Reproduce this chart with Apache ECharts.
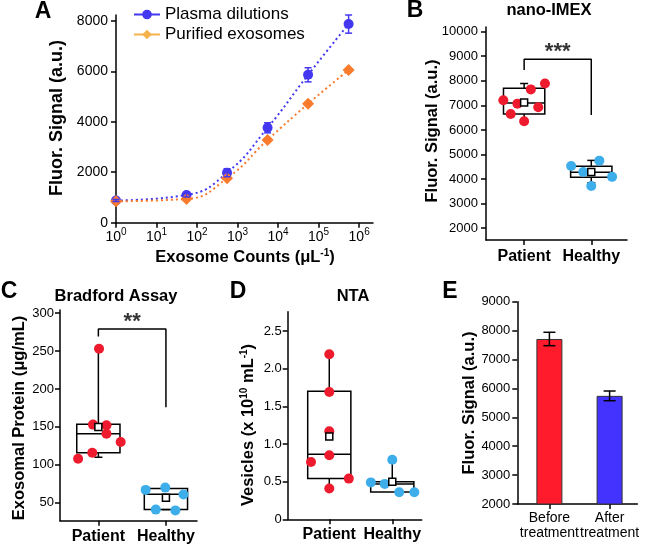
<!DOCTYPE html>
<html><head><meta charset="utf-8">
<script src="https://cdn.jsdelivr.net/npm/echarts@6/dist/echarts.min.js"></script>
<style>html,body{margin:0;padding:0;background:#fff}#c{width:645px;height:546px}</style>
</head><body><div id="c"></div>
<script>
// ---------- Panel A data ----------
const aCounts = [1, 55, 550, 5500, 55000, 550000];
const aPlasma = [880, 1100, 1980, 3760, 5860, 7870];
const aPlasmaErr = [40, 80, 160, 200, 280, 360];
const aPurified = [850, 940, 1760, 3280, 4710, 6050];
const aTicksX = [1, 10, 100, 1000, 10000, 100000, 1000000];
const aTicksY = [0, 2000, 4000, 6000, 8000];

// ---------- Panel B data (nano-IMEX) ----------
const cats = ['Patient', 'Healthy'];
const catPos = [1, 2];
const bPatientX = [0.69, 0.80, 0.90, 1.00, 1.10, 1.21, 1.31];
const bPatientY = [7210, 6650, 7070, 6350, 7650, 6920, 7890];
const bHealthyX = [1.70, 1.88, 2.00, 2.12, 2.31];
const bHealthyY = [4530, 4290, 3720, 4750, 4090];
const bLow = [6360, 3850];
const bQ1 = [6650, 4070];
const bMed = [7100, 4280];
const bQ3 = [7700, 4520];
const bHigh = [7890, 4760];
const bMean = [7120, 4290];
const bBracketX = [1, 1, 2, 2];
const bBracketY = [8440, 8880, 8880, 6610];
const bTicksY = [2000, 3000, 4000, 5000, 6000, 7000, 8000, 9000, 10000];

// ---------- Panel C data (Bradford) ----------
const cPatientX = [0.70, 0.91, 0.92, 1.01, 1.12, 1.12, 1.33];
const cPatientY = [108, 116, 153, 253, 152, 141, 130];
const cHealthyX = [1.70, 1.85, 1.99, 2.14, 2.26];
const cHealthyY = [67, 41, 70, 40, 61];
const cLow = [110, 41];
const cQ1 = [116, 41.3];
const cMed = [141, 61.3];
const cQ3 = [153.5, 68.7];
const cHigh = [253.5, 71];
const cMean = [150, 56.5];
const cBracketX = [1, 1, 2, 2];
const cBracketY = [269, 279, 279, 176];
const cTicksY = [50, 100, 150, 200, 250, 300];

// ---------- Panel D data (NTA) ----------
const dPatientX = [0.71, 1.0, 1.0, 1.0, 1.0, 1.0, 1.31];
const dPatientY = [0.76, 2.19, 1.69, 1.17, 0.85, 0.41, 0.54];
const dHealthyX = [1.66, 1.88, 2.0, 2.11, 2.35];
const dHealthyY = [0.49, 0.47, 0.79, 0.36, 0.36];
const dLow = [0.425, 0.363];
const dQ1 = [0.54, 0.363];
const dMed = [0.863, 0.47];
const dQ3 = [1.70, 0.50];
const dHigh = [2.18, 0.79];
const dMean = [1.10, 0.50];
const dTicksY = [0, 0.5, 1.0, 1.5, 2.0, 2.5];

// ---------- Panel E data ----------
const eLabels = ['Before\ntreatment', 'After\ntreatment'];
const ePos = [1, 2];
const eValues = [7710, 5742];
const eErr = [232, 168];
const eTicksY = [2000, 3000, 4000, 5000, 6000, 7000, 8000, 9000];

// ---------- styling ----------
const FONT = '"Liberation Sans", Arial, sans-serif';
const BLUE = '#4337F0';
const ORANGE = '#FA7B2C';
const RED = '#EE1B2E';
const LBLUE = '#3DAEEA';
const E_COLORS = ['#FF1A2C', '#4433FF'];

function vAxis(grid, min, max, ticks, fmt, margin, fs) {
  return {
    type: 'value', gridIndex: grid, min: min, max: max,
    axisLine: {show: true, onZero: false, lineStyle: {color: '#000', width: 1.5}},
    axisTick: {show: true, length: 5, customValues: ticks, lineStyle: {color: '#000', width: 1.5}},
    axisLabel: {customValues: ticks, formatter: fmt, margin: margin, color: '#000', fontSize: fs || 13, fontFamily: FONT,
      hideOverlap: false, showMinLabel: true, showMaxLabel: true},
    splitLine: {show: false}
  };
}
function catAxis(grid, min, max, names, margin, bold, fs, lh) {
  const ax = vAxis(grid, min, max, catPos, function (v) { return names[Math.round(v) - 1]; }, margin, fs);
  ax.axisLabel.fontWeight = bold ? 'bold' : 'normal';
  if (lh) ax.axisLabel.lineHeight = lh;
  return ax;
}

function boxRender(boxW) {
  return function (params, api) {
    const x = api.value(0), lo = api.value(1), q1 = api.value(2), med = api.value(3), q3 = api.value(4), hi = api.value(5);
    const w = api.size([boxW, 0])[0];
    const p1 = api.coord([x, q1]), p3 = api.coord([x, q3]), pm = api.coord([x, med]);
    const pl = api.coord([x, lo]), ph = api.coord([x, hi]);
    const cx = p1[0], cap = 4;
    const st = {stroke: '#000', lineWidth: 1.5, fill: null};
    const ch = [];
    if (hi > q3) {
      ch.push({type: 'line', shape: {x1: cx, y1: ph[1], x2: cx, y2: p3[1]}, style: st});
      ch.push({type: 'line', shape: {x1: cx - cap, y1: ph[1], x2: cx + cap, y2: ph[1]}, style: st});
    }
    if (lo < q1) {
      ch.push({type: 'line', shape: {x1: cx, y1: pl[1], x2: cx, y2: p1[1]}, style: st});
      ch.push({type: 'line', shape: {x1: cx - cap, y1: pl[1], x2: cx + cap, y2: pl[1]}, style: st});
    }
    ch.push({type: 'rect', shape: {x: cx - w / 2, y: p3[1], width: w, height: p1[1] - p3[1]}, style: {stroke: '#000', lineWidth: 1.5, fill: 'rgba(0,0,0,0)'}});
    ch.push({type: 'line', shape: {x1: cx - w / 2, y1: pm[1], x2: cx + w / 2, y2: pm[1]}, style: st});
    return {type: 'group', children: ch};
  };
}
function errRender(capHalf, color) {
  return function (params, api) {
    const x = api.value(0), y = api.value(1), e = api.value(2);
    const t = api.coord([x, y + e]), b = api.coord([x, y - e]);
    const st = {stroke: color, lineWidth: 1.5};
    return {type: 'group', children: [
      {type: 'line', shape: {x1: t[0], y1: t[1], x2: b[0], y2: b[1]}, style: st},
      {type: 'line', shape: {x1: t[0] - capHalf, y1: t[1], x2: t[0] + capHalf, y2: t[1]}, style: st},
      {type: 'line', shape: {x1: b[0] - capHalf, y1: b[1], x2: b[0] + capHalf, y2: b[1]}, style: st}
    ]};
  };
}
const zip = (xs, ys) => xs.map((x, i) => [x, ys[i]]);
function boxPanelSeries(idx, boxW, px, py, hx, hy, lo, q1, me, q3, hi, mean, brX, brY, stars) {
  const s = [];
  s.push({type: 'custom', xAxisIndex: idx, yAxisIndex: idx, renderItem: boxRender(boxW), encode: {x: 0, y: [1, 2, 3, 4, 5]},
    data: catPos.map((p, i) => [p, lo[i], q1[i], me[i], q3[i], hi[i]]), z: 2, silent: true});
  s.push({type: 'scatter', xAxisIndex: idx, yAxisIndex: idx, symbolSize: 10, itemStyle: {color: RED, opacity: 1}, data: zip(px, py), z: 3, clip: false});
  s.push({type: 'scatter', xAxisIndex: idx, yAxisIndex: idx, symbolSize: 10, itemStyle: {color: LBLUE, opacity: 1}, data: zip(hx, hy), z: 3, clip: false});
  s.push({type: 'scatter', xAxisIndex: idx, yAxisIndex: idx, symbol: 'rect', symbolSize: 7, itemStyle: {color: '#fff', borderColor: '#000', borderWidth: 1.5, opacity: 1}, data: zip(catPos, mean), z: 4});
  if (brX) {
    s.push({type: 'line', xAxisIndex: idx, yAxisIndex: idx, symbol: 'none', lineStyle: {color: '#000', width: 1.5}, data: zip(brX, brY), z: 2, silent: true});
    s.push({type: 'scatter', xAxisIndex: idx, yAxisIndex: idx, symbolSize: 0, data: [[(brX[0] + brX[3]) / 2, brY[1]]],
      label: {show: true, position: 'top', distance: 0, offset: [0, 4], formatter: stars, fontSize: 22, fontWeight: 'bold', color: '#000', fontFamily: FONT}});
  }
  return s;
}

const chart = echarts.init(document.getElementById('c'), null, {renderer: 'canvas'});
const bold = (t, x, y, fs, rot, rich) => ({type: 'text', x: x, y: y, rotation: rot || 0,
  style: {text: t, font: 'bold ' + fs + 'px ' + FONT, fill: '#000', align: 'center', verticalAlign: 'middle', rich: rich}});
const supRich = {s: {fontSize: 10, fontWeight: 'bold', fontFamily: FONT, fill: '#000', verticalAlign: 'top', padding: [0, 0, 6, 0]}};

const option = {
  animation: false,
  backgroundColor: '#fff',
  textStyle: {fontFamily: FONT},
  grid: [
    {left: 116, top: 15, width: 257, height: 207.7},
    {left: 486, top: 27, width: 141, height: 213},
    {left: 60, top: 310, width: 137, height: 210.7},
    {left: 287.7, top: 311.7, width: 134, height: 207.6},
    {left: 517.3, top: 301.7, width: 120, height: 202.3}
  ],
  xAxis: [
    {type: 'log', logBase: 10, gridIndex: 0, min: 1, max: 2.2e6,
      axisLine: {show: true, onZero: false, lineStyle: {color: '#000', width: 1.5}},
      axisTick: {show: true, length: 5, customValues: aTicksX, lineStyle: {color: '#000', width: 1.5}},
      axisLabel: {customValues: aTicksX, margin: 5, color: '#000', hideOverlap: false,
        formatter: v => '{b|10}{s|' + Math.round(Math.log10(v)) + '}',
        rich: {b: {fontSize: 14, fontFamily: FONT, color: '#000'}, s: {fontSize: 10, fontFamily: FONT, color: '#000', verticalAlign: 'top', padding: [0, 0, 8, 0]}}},
      splitLine: {show: false}, minorTick: {show: false}},
    catAxis(1, 0.432, 2.532, cats, 9, true, 16),
    catAxis(2, 0.432, 2.46, cats, 8, true, 16),
    catAxis(3, 0.34, 2.467, cats, 7, true, 16),
    catAxis(4, 0.467, 2.46, eLabels, 7, false, 14, 15)
  ],
  yAxis: [
    vAxis(0, 0, 8230, aTicksY, v => String(v), 8, 14),
    vAxis(1, 1520, 10190, bTicksY, v => String(v), 8),
    vAxis(2, 26.4, 304, cTicksY, v => String(v), 6),
    vAxis(3, 0, 2.756, dTicksY, v => v === 0 ? '0' : v.toFixed(1), 6),
    vAxis(4, 2000, 9000, eTicksY, v => String(v), 7)
  ],
  legend: {
    orient: 'vertical', left: 128, top: 1, itemWidth: 26, itemHeight: 12, itemGap: 3,
    textStyle: {fontSize: 17, fontFamily: FONT, color: '#000'},
    lineStyle: {type: 'solid', width: 2},
    data: [
      {name: 'Plasma dilutions'},
      {name: 'Purified exosomes', itemStyle: {color: '#F6B24A'}, lineStyle: {color: '#F6B24A', type: 'solid', width: 2}}
    ]
  },
  graphic: [
    bold('A', 43, 12, 23), bold('B', 415, 11, 23), bold('C', 9, 292, 23), bold('D', 238, 292, 23), bold('E', 450, 292, 23),
    bold('nano-IMEX', 549, 10, 16.5), bold('Bradford Assay', 116, 296, 16.5), bold('NTA', 353, 296, 16.5),
    bold('Fluor. Signal (a.u.)', 57, 118, 18, Math.PI / 2),
    bold('Exosome Counts (μL{s|-1})', 245, 257, 16.5, 0, supRich),
    bold('Fluor. Signal (a.u.)', 432, 131, 16.5, Math.PI / 2),
    bold('Exosomal Protein (μg/mL)', 19, 418, 16.5, Math.PI / 2),
    bold('Vesicles (x 10{s|10} mL{s|-1})', 248, 425, 16.5, Math.PI / 2, supRich),
    bold('Fluor. Signal (a.u.)', 469, 403, 16.5, Math.PI / 2)
  ],
  series: [
    {name: 'Plasma dilutions', type: 'line', xAxisIndex: 0, yAxisIndex: 0, smooth: true, symbol: 'circle', symbolSize: 10,
      itemStyle: {color: BLUE}, lineStyle: {color: BLUE, width: 2, type: [2, 3]}, data: zip(aCounts, aPlasma), z: 3},
    {name: 'Purified exosomes', type: 'line', xAxisIndex: 0, yAxisIndex: 0, smooth: true, symbol: 'diamond', symbolSize: 12,
      itemStyle: {color: ORANGE}, lineStyle: {color: ORANGE, width: 2, type: [2, 3]}, data: zip(aCounts, aPurified), z: 3},
    {type: 'custom', xAxisIndex: 0, yAxisIndex: 0, renderItem: errRender(3.5, BLUE), encode: {x: 0, y: 1},
      data: aCounts.map((c, i) => [c, aPlasma[i], aPlasmaErr[i]]), z: 4, silent: true},
    ...boxPanelSeries(1, 0.615, bPatientX, bPatientY, bHealthyX, bHealthyY, bLow, bQ1, bMed, bQ3, bHigh, bMean, bBracketX, bBracketY, '***'),
    ...boxPanelSeries(2, 0.64, cPatientX, cPatientY, cHealthyX, cHealthyY, cLow, cQ1, cMed, cQ3, cHigh, cMean, cBracketX, cBracketY, '**'),
    ...boxPanelSeries(3, 0.685, dPatientX, dPatientY, dHealthyX, dHealthyY, dLow, dQ1, dMed, dQ3, dHigh, dMean, null, null, ''),
    {type: 'bar', xAxisIndex: 4, yAxisIndex: 4, barWidth: 26, clip: true,
      data: ePos.map((p, i) => ({value: [p, eValues[i]], itemStyle: {color: E_COLORS[i], borderColor: '#333', borderWidth: 1}}))},
    {type: 'custom', xAxisIndex: 4, yAxisIndex: 4, renderItem: errRender(6, '#000'), encode: {x: 0, y: 1},
      data: ePos.map((p, i) => [p, eValues[i], eErr[i]]), z: 4, silent: true}
  ]
};
chart.setOption(option);
</script>
</body></html>
